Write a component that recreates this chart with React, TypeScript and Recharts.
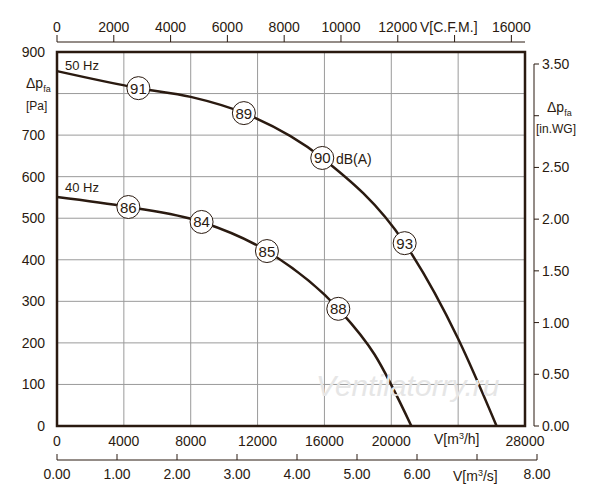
import React from 'react';
import { ComposedChart, LineChart, Line, XAxis, YAxis, CartesianGrid, ReferenceArea } from 'recharts';

const INK = '#2a1a10';
const FONT = '"Liberation Sans", Arial, sans-serif';

// 50 Hz curve: [flow m3/h, pressure Pa, dB label]
const flow50 = [0, 4870, 8000, 11180, 15870, 20800, 24000, 26300];
const pres50 = [854, 813, 792, 753, 645, 440, 210, 0];
const db50: (number | null)[] = [null, 91, null, 89, 90, 93, null, null];

const flow40 = [0, 4270, 8650, 12560, 16830, 19000, 21200];
const pres40 = [551, 527, 491, 421, 282, 172, 0];
const db40: (number | null)[] = [null, 86, 84, 85, 88, null, null];

const flowTicks = [0, 4000, 8000, 12000, 16000, 20000, 28000];
const cfmTicks = [0, 2000, 4000, 6000, 8000, 10000, 12000, 14000, 16000];
const paTicks = [0, 100, 200, 300, 400, 500, 600, 700, 800, 900];
const inwgTicks = [0, 0.5, 1, 1.5, 2, 2.5, 3, 3.5];
const m3sTicks = [0, 1, 2, 3, 4, 5, 6, 7, 8];

const build = (f: number[], p: number[], d: (number | null)[]) =>
  f.map((x, i) => ({ flow: x, pa: p[i], db: d[i] }));
const data50 = build(flow50, pres50, db50);
const data40 = build(flow40, pres40, db40);
const blank = [{ a: 0 }];

const tickStyle = { fill: INK, fontSize: 14, fontFamily: FONT };

const DbDot = (props: any) => {
  const { cx, cy, payload } = props;
  if (payload.db == null) return <g key={`${cx}-${cy}`} />;
  return (
    <g key={`${cx}-${cy}`}>
      <circle cx={cx} cy={cy} r={11.5} fill="#fff" stroke={INK} strokeWidth={1} />
      <text x={cx} y={cy + 5.5} textAnchor="middle" fontSize={15} fontFamily={FONT} fill={INK}>
        {payload.db}
      </text>
    </g>
  );
};

const abs: React.CSSProperties = { position: 'absolute', left: 0, top: 0 };

export default function App() {
  return (
    <div style={{ ...abs, width: 600, height: 500, background: '#fff' }}>
      <div style={abs}>
        <ComposedChart width={600} height={500} margin={{ top: 52, right: 75, bottom: 54, left: 0 }}>
          <CartesianGrid stroke="#9a9a9a" strokeWidth={1} horizontalValues={paTicks} verticalValues={[4000, 8000, 12000, 16000, 20000, 24000]} />
          <XAxis type="number" dataKey="flow" domain={[0, 28000]} ticks={flowTicks} axisLine={false} tickLine={false} height={20} tick={tickStyle} tickMargin={4} />
          <YAxis type="number" dataKey="pa" domain={[0, 900]} ticks={paTicks} axisLine={false} tickLine={false} width={57} tick={tickStyle} tickMargin={6} tickFormatter={(v: number) => (v === 800 ? '' : String(v))} />
          <ReferenceArea x1={0} x2={28000} y1={0} y2={900} fill="none" stroke={INK} strokeWidth={2.5} ifOverflow="visible" />
          <Line data={data50} dataKey="pa" type="monotone" stroke={INK} strokeWidth={2.5} dot={<DbDot />} isAnimationActive={false} />
          <Line data={data40} dataKey="pa" type="monotone" stroke={INK} strokeWidth={2.5} dot={<DbDot />} isAnimationActive={false} />
        </ComposedChart>
      </div>
      {/* top C.F.M. axis */}
      <div style={abs}>
        <LineChart width={600} height={500} data={blank} margin={{ top: 0, right: 75, bottom: 0, left: 57 }}>
          <XAxis orientation="top" type="number" dataKey="a" domain={[0, 16480]} allowDataOverflow ticks={cfmTicks} height={42} stroke={INK} tick={tickStyle} tickSize={7} tickMargin={3} tickFormatter={(v: number) => (v === 14000 ? '' : String(v))} />
          <YAxis hide width={0} dataKey="a" />
        </LineChart>
      </div>
      {/* right in.WG axis */}
      <div style={abs}>
        <LineChart width={600} height={500} data={blank} margin={{ top: 64, right: 0, bottom: 74, left: 0 }}>
          <XAxis hide type="number" dataKey="a" height={0} />
          <YAxis orientation="right" type="number" dataKey="a" domain={[0, 3.5]} allowDataOverflow ticks={inwgTicks} width={66} stroke={INK} tick={tickStyle} tickSize={5} tickMargin={3} tickFormatter={(v: number) => (v === 3 ? '' : v.toFixed(2))} />
        </LineChart>
      </div>
      {/* bottom m3/s axis */}
      <div style={abs}>
        <LineChart width={600} height={500} data={blank} margin={{ top: 0, right: 63, bottom: 0, left: 57 }}>
          <XAxis type="number" dataKey="a" domain={[0, 8]} allowDataOverflow ticks={m3sTicks} height={40} stroke={INK} tick={tickStyle} tickSize={-6} tickMargin={15} tickFormatter={(v: number) => (v === 7 ? '' : v.toFixed(2))} />
          <YAxis hide width={0} dataKey="a" />
        </LineChart>
      </div>
      <svg width={600} height={500} style={{ ...abs, pointerEvents: 'none' }} fontFamily={FONT} fill={INK}>
        <text x={316} y={396} fontSize={30} fontStyle="italic" fill="#e6e6e6">Ventilatorry.ru</text>
        <text x={65} y={70} fontSize={13}>50 Hz</text>
        <text x={65} y={192} fontSize={13}>40 Hz</text>
        <text x={336} y={164} fontSize={14}>dB(A)</text>
        <text x={26} y={88} fontSize={14}>Δp<tspan fontSize={9} dy={4}>fa</tspan></text>
        <text x={26} y={110} fontSize={12}>[Pa]</text>
        <text x={547} y={112} fontSize={14}>Δp<tspan fontSize={9} dy={4}>fa</tspan></text>
        <text x={536} y={133} fontSize={12}>[in.WG]</text>
        <text x={420} y={32} fontSize={14}>V[C.F.M.]</text>
        <text x={434} y={444} fontSize={14}>V[m<tspan fontSize={9} dy={-5}>3</tspan><tspan dy={5}>/h]</tspan></text>
        <text x={453} y={481} fontSize={14}>V[m<tspan fontSize={9} dy={-5}>3</tspan><tspan dy={5}>/s]</tspan></text>
      </svg>
    </div>
  );
}
